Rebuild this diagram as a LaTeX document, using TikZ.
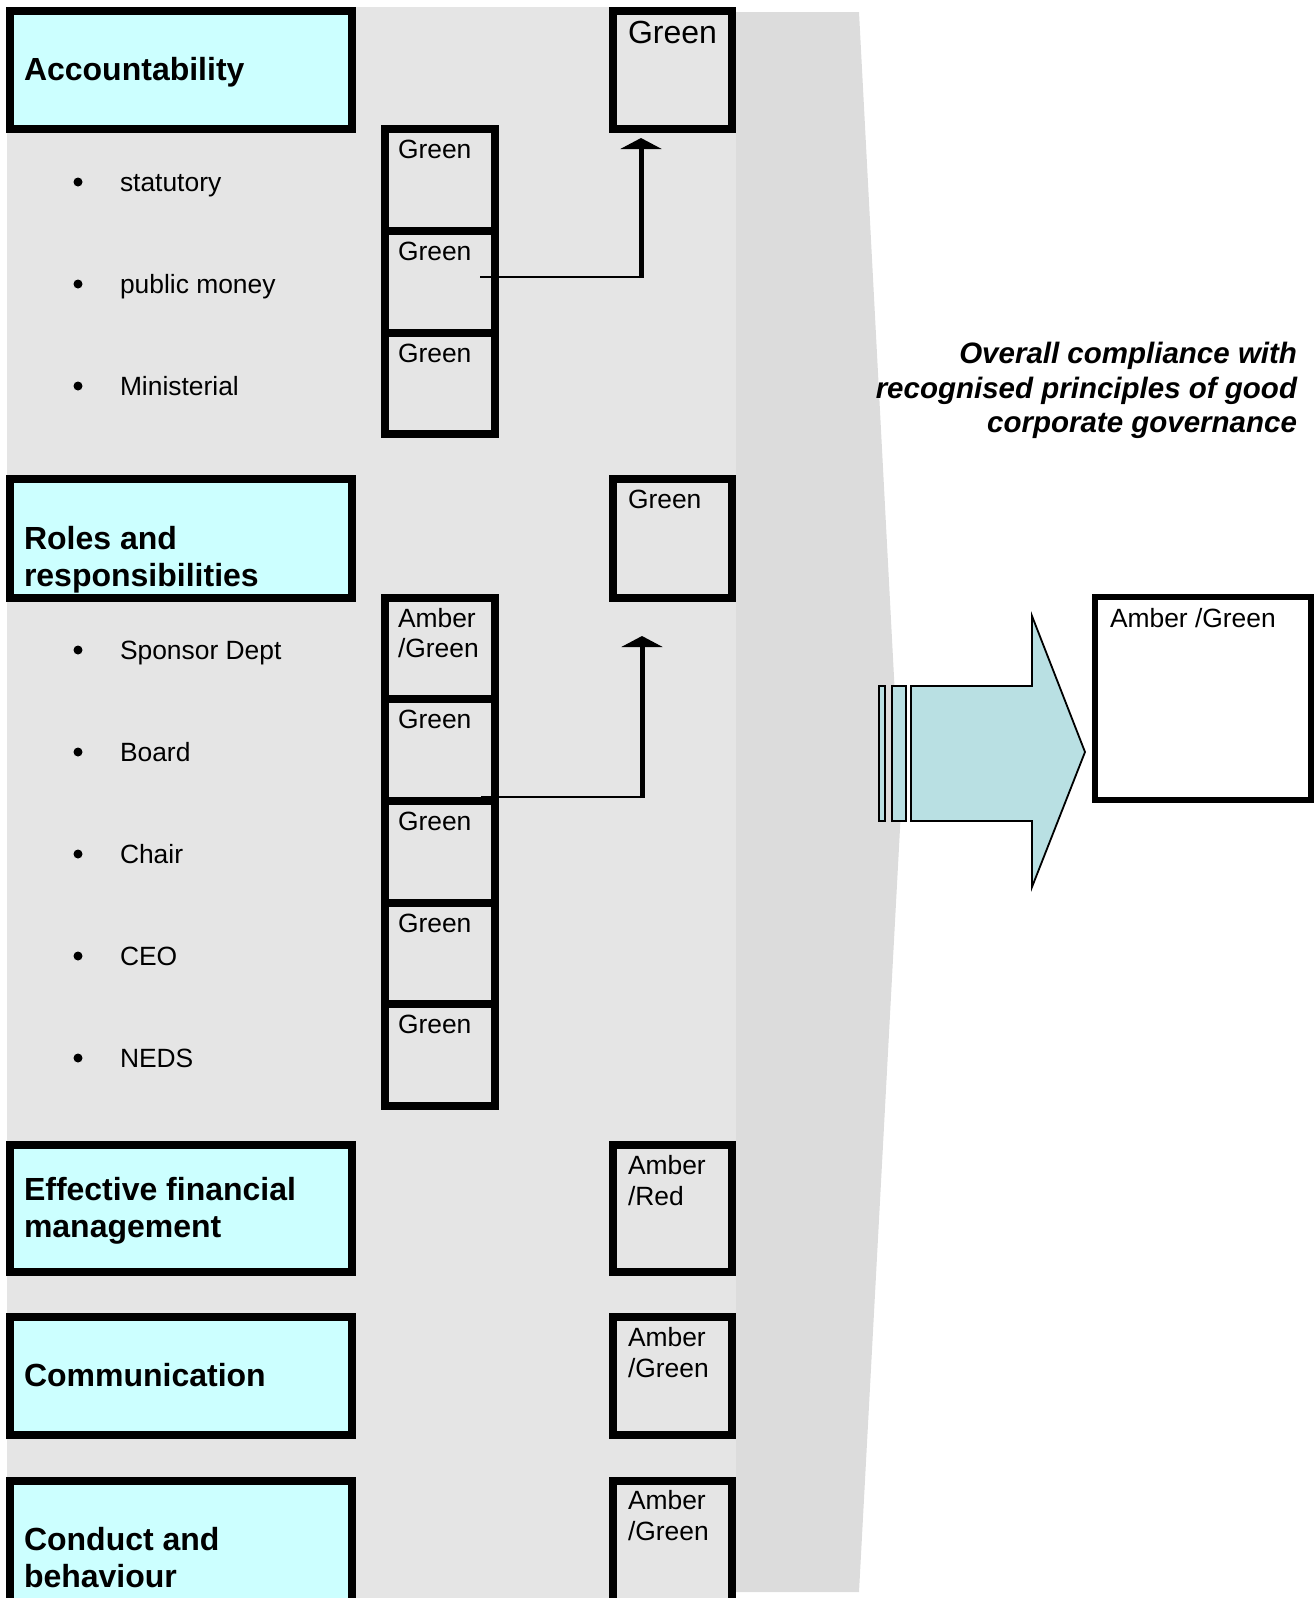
\documentclass[tikz,border=0pt]{standalone}
\usepackage{fontspec}
\setmainfont{Liberation Sans}
\usetikzlibrary{arrows.meta,calc}
\definecolor{panel}{RGB}{229,229,229}
\definecolor{panelB}{RGB}{220,220,220}
\definecolor{hdrfill}{RGB}{204,255,255}
\definecolor{arrowfill}{RGB}{185,224,227}
\newcommand\regfont{\fontsize{26.4}{30}\selectfont}
\newcommand\bigregfont{\fontsize{32}{36}\selectfont}
\newcommand\hdrfont{\fontsize{32}{37}\selectfont\bfseries}
\newcommand\ovfont{\fontsize{29.5}{35}\selectfont\bfseries\itshape}
\begin{document}
\begin{tikzpicture}[x=1pt,y=-1pt,
  hdrbox/.style={draw, line width=8pt, fill=hdrfill, inner sep=0pt, outer sep=0pt, anchor=north west, minimum width=342pt},
  ratebox/.style={draw, line width=8pt, inner sep=0pt, outer sep=0pt, anchor=north west, minimum width=119pt},
  subbox/.style={draw, line width=8pt, inner sep=0pt, outer sep=0pt, anchor=north west, minimum width=110pt, minimum height=102pt},
  resbox/.style={draw, line width=6pt, fill=white, inner sep=0pt, outer sep=0pt, anchor=north west, minimum width=216pt, minimum height=203pt},
  txt/.style={inner sep=0pt, outer sep=0pt, anchor=base west, font=\regfont},
  htxt/.style={txt, font=\hdrfont},
  ovtxt/.style={inner sep=0pt, outer sep=0pt, anchor=base east, font=\ovfont},
  blt/.style={circle, fill, inner sep=0pt, outer sep=0pt, minimum size=9pt},
  thinln/.style={line width=2pt},
  thickln/.style={line width=5pt, -{Triangle[length=11pt 0 0, width=41pt 0 0]}},
  bigarrow/.style={draw, line width=1.8pt, fill=arrowfill},
]
\useasboundingbox (0,0) rectangle (1316,1598);
\clip (0,0) rectangle (1316,1598);
% backgrounds
\fill[panel] (7,7) rectangle (736,1610);
\fill[panelB] (736,12) -- (859,12) -- (901,810) -- (859,1592) -- (736,1592) -- cycle;

% Accountability group
\node[hdrbox, minimum height=118pt] (acc) at (10,11) {};
\node[ratebox, minimum height=118pt] (ra1) at (613,11) {};
\node[subbox] (a1) at (385,129) {};
\node[subbox] (a2) at (385,231) {};
\node[subbox, minimum height=101pt] (a3) at (385,333) {};

% Roles group
\node[hdrbox, minimum height=119pt] (rol) at (10,479) {};
\node[ratebox, minimum height=119pt] (ra2) at (613,479) {};
\node[subbox, minimum height=101pt] (b1) at (385,598) {};
\node[subbox] (b2) at (385,699) {};
\node[subbox] (b3) at (385,801) {};
\node[subbox, minimum height=101pt] (b4) at (385,903) {};
\node[subbox] (b5) at (385,1004) {};

% other groups
\node[hdrbox, minimum height=127pt] (eff) at (10,1145) {};
\node[ratebox, minimum height=127pt] (ra3) at (613,1145) {};
\node[hdrbox, minimum height=118pt] (com) at (10,1317) {};
\node[ratebox, minimum height=118pt] (ra4) at (613,1317) {};
\node[hdrbox, minimum height=140pt] (con) at (10,1481) {};
\node[ratebox, minimum height=140pt] (ra5) at (613,1481) {};

% header texts
\node[htxt] (tacc) at (24,80) {Accountability};
\node[htxt] (trol1) at (24,549) {Roles and};
\node[htxt] (trol2) at (24,586) {responsibilities};
\node[htxt] (teff1) at (24,1200) {Effective financial};
\node[htxt] (teff2) at (24,1237) {management};
\node[htxt] (tcom) at (24,1386) {Communication};
\node[htxt] (tcon1) at (24,1550) {Conduct and};
\node[htxt] (tcon2) at (24,1587) {behaviour};

% rating texts right column
\node[txt, font=\bigregfont] (tra1) at (628,43) {Green};
\node[txt] (tra2) at (628,508) {Green};
\node[txt] (tra3a) at (628,1174) {Amber};
\node[txt] (tra3b) at (628,1205) {/Red};
\node[txt] (tra4a) at (628,1346) {Amber};
\node[txt] (tra4b) at (628,1377) {/Green};
\node[txt] (tra5a) at (628,1509) {Amber};
\node[txt] (tra5b) at (628,1540) {/Green};

% sub box texts
\node[txt] (ta1) at (398,158) {Green};
\node[txt] (ta2) at (398,260) {Green};
\node[txt] (ta3) at (398,362) {Green};
\node[txt] (tb1a) at (398,627) {Amber};
\node[txt] (tb1b) at (398,657) {/Green};
\node[txt] (tb2) at (398,728) {Green};
\node[txt] (tb3) at (398,830) {Green};
\node[txt] (tb4) at (398,932) {Green};
\node[txt] (tb5) at (398,1033) {Green};

% bullets
\foreach \y/\t [count=\i] in {191/statutory, 293/public money, 395/Ministerial, 659/Sponsor Dept, 761/Board, 863/Chair, 965/CEO, 1067/NEDS}{
  \node[blt] (bul\i) at (78,\y-9) {};
  \node[txt] (item\i) at (120,\y) {\t};
}

% connectors
\coordinate (s1) at ($(a2.north east)+(-15,46)$);
\coordinate (tip1) at ($(ra1.south west)+(28,9)$);
\draw[thinln] (s1) -- (s1 -| tip1);
\draw[thickln] ($(s1 -| tip1)+(0,1)$) -- (tip1);
\coordinate (s2) at ($(b2.north east)+(-14,98)$);
\coordinate (tip2) at ($(ra2.south west)+(29,38)$);
\draw[thinln] (s2) -- (s2 -| tip2);
\draw[thickln] ($(s2 -| tip2)+(0,1)$) -- (tip2);

% overall text
\node[ovtxt] (ov1) at (1297,363) {Overall compliance with};
\node[ovtxt] (ov2) at (1297,398) {recognised principles of good};
\node[ovtxt] (ov3) at (1297,432) {corporate governance};

% big arrow
\draw[bigarrow] (879,686) rectangle (885,821);
\draw[bigarrow] (892,686) rectangle (906,821);
\draw[bigarrow] (911,686) -- (1032,686) -- (1032,616) -- (1085,752) -- (1032,887) -- (1032,821) -- (911,821) -- cycle;

% result
\node[resbox] (res) at (1095,597) {};
\node[txt] (tres) at (1110,627) {Amber /Green};
\end{tikzpicture}
\end{document}
